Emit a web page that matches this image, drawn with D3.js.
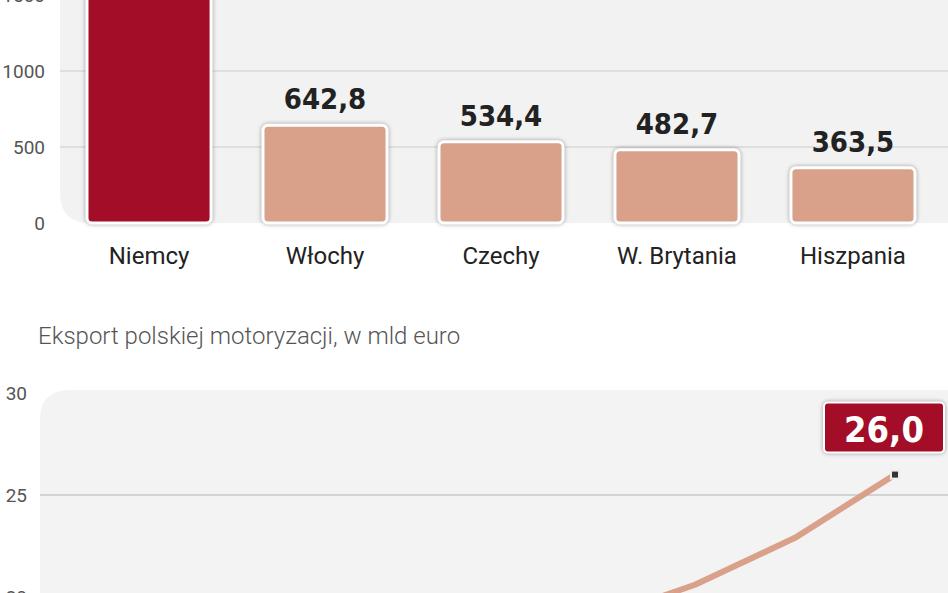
<!DOCTYPE html>
<html><head><meta charset="utf-8">
<script src="https://cdn.jsdelivr.net/npm/d3@7"></script>
<style>
body{margin:0;background:#fff;}
svg{display:block;font-family:Roboto,"Noto Sans",sans-serif;}
.val{font-family:"Liberation Sans Narrow","DejaVu Sans Condensed",sans-serif;font-weight:bold;}
</style></head>
<body>
<div id="chart"></div>
<script>
// top chart
const countries = ['Niemcy','Włochy','Czechy','W. Brytania','Hiszpania'];
const production = [1650, 642.8, 534.4, 482.7, 363.5];
const barTicks = [0, 500, 1000, 1500];
// bottom chart
const years = [2011, 2012, 2013, 2014, 2015, 2016];
const exportValues = [16.6, 17.7, 18.9, 20.6, 22.9, 26.0];
const lineTicks = [20, 25, 30];

const W = 948, H = 593;
const svg = d3.select('#chart').append('svg').attr('width',W).attr('height',H);
const fmt = v => d3.format('.1f')(v).replace('.',',');

// ---- bar chart
const yBar = d3.scaleLinear().domain([0,1000]).range([223,71]);
const xBar = d3.scaleBand().domain(countries).range([87,915]).paddingInner(0.295).paddingOuter(0);

svg.append('path').attr('fill','#f2f2f2')
  .attr('d','M60,-10 H948 V223 H90 Q60,223 60,193 Z');
svg.append('g').selectAll('line').data(barTicks.filter(d=>d>0)).join('line')
  .attr('x1',60).attr('x2',948).attr('y1',d=>yBar(d)).attr('y2',d=>yBar(d))
  .attr('stroke','#d8d8d8').attr('stroke-width',1.5);
svg.append('g').selectAll('text').data(barTicks).join('text')
  .attr('x',45).attr('y',d=>yBar(d)+7).attr('text-anchor','end')
  .attr('font-size',19).attr('fill','#555').text(d=>d);

svg.append('g').selectAll('rect').data(production).join('rect')
  .attr('x',(d,i)=>xBar(countries[i])).attr('width',xBar.bandwidth())
  .attr('y',d=>yBar(d)).attr('height',d=>yBar(0)-yBar(d))
  .attr('rx',5)
  .attr('fill',(d,i)=>i===0?'#a30d28':'#d9a08a')
  .attr('stroke','#fff').attr('stroke-width',3)
  .style('filter','drop-shadow(0 0 2px rgba(0,0,0,0.35))');
svg.append('g').selectAll('text').data(production.slice(1)).join('text')
  .attr('class','val')
  .attr('x',(d,i)=>xBar(countries[i+1])+xBar.bandwidth()/2)
  .attr('y',d=>yBar(d)-16).attr('text-anchor','middle')
  .attr('font-size',29).attr('fill','#222').text(fmt);
svg.append('g').selectAll('text').data(countries).join('text')
  .attr('x',d=>xBar(d)+xBar.bandwidth()/2).attr('y',264)
  .attr('text-anchor','middle').attr('font-size',24).attr('fill','#222').text(d=>d);

// ---- line chart
svg.append('text').attr('x',38).attr('y',344).attr('font-size',24)
  .attr('font-weight',300).attr('fill','#555').text('Eksport polskiej motoryzacji, w mld euro');
const yLine = d3.scaleLinear().domain([25,30]).range([495,393]);
const xLine = d3.scaleLinear().domain([2011,2016]).range([395,895]);
svg.append('path').attr('fill','#f3f3f3')
  .attr('d','M70,390 H948 V600 H40 V420 Q40,390 70,390 Z');
svg.append('g').selectAll('line').data(lineTicks.filter(d=>d<30)).join('line')
  .attr('x1',40).attr('x2',948).attr('y1',d=>yLine(d)).attr('y2',d=>yLine(d))
  .attr('stroke','#c8c8c8').attr('stroke-width',1.5);
svg.append('g').selectAll('text').data(lineTicks).join('text')
  .attr('x',27).attr('y',d=>yLine(d)+7).attr('text-anchor','end')
  .attr('font-size',19).attr('fill','#555').text(d=>d);
const line = d3.line().x((d,i)=>xLine(years[i])).y(d=>yLine(d));
svg.append('path').datum(exportValues).attr('d',line)
  .attr('fill','none').attr('stroke','#d9a08a').attr('stroke-width',6).attr('stroke-linejoin','round');
const last = exportValues.length-1;
const lx = xLine(years[last]), ly = yLine(exportValues[last]);
svg.append('rect').attr('x',lx-4).attr('y',ly-4).attr('width',8).attr('height',8)
  .attr('fill','#333').attr('stroke','#eee').attr('stroke-width',2);
svg.append('rect').attr('x',lx-71).attr('y',ly-72).attr('width',120).attr('height',50).attr('rx',4)
  .attr('fill','#a30d28').attr('stroke','#fff').attr('stroke-width',2)
  .style('filter','drop-shadow(0 0 2px rgba(0,0,0,0.35))');
svg.append('text').attr('class','val').attr('x',lx-11).attr('y',ly-33)
  .attr('text-anchor','middle').attr('font-size',36).attr('fill','#fff').text(fmt(exportValues[last]));
</script>
</body></html>
